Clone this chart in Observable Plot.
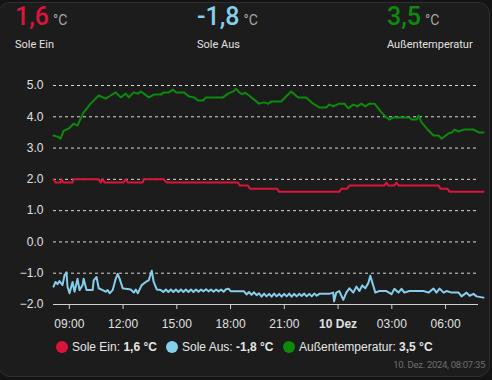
<!DOCTYPE html>
<html>
<head>
<meta charset="utf-8">
<script src="https://cdn.jsdelivr.net/npm/d3@7"></script>
<script src="https://cdn.jsdelivr.net/npm/@observablehq/plot@0.6"></script>
<style>
  html, body { margin: 0; padding: 0; width: 492px; height: 380px; background: #141414; overflow: hidden; }
  #card { position: absolute; left: -2px; top: 2px; width: 490px; height: 373px; background: #1c1c1c; border: 1px solid #2f2f2f; border-radius: 12px; }
  .hdr { position: absolute; font-family: Roboto, "Noto Sans", sans-serif; }
  .val { font-size: 25px; font-weight: 500; }
  .unit { font-size: 14px; color: #a8a8a8; margin-left: 4px; }
  .name { position: absolute; font-family: Roboto, sans-serif; font-size: 11px; color: #e1e1e1; }
  #chart { position: absolute; left: 0; top: 62px; }
  .leg { position: absolute; top: 340px; font-family: "Liberation Sans", Arial, sans-serif; font-size: 12px; color: #e6e6e6; white-space: nowrap; display: flex; align-items: center; }
  .dot { display: inline-block; width: 12px; height: 12px; border-radius: 50%; margin-right: 4px; }
  #stamp { position: absolute; right: 7px; top: 359px; font-family: Roboto, sans-serif; font-size: 9.5px; color: #6f6f6f; letter-spacing: -0.3px; }
</style>
</head>
<body>
<div id="card"></div>
<div id="chart"></div>
<script>
// ---- data ----
const seriesNames = ["Sole Ein", "Sole Aus", "Außentemperatur"];
const currentValues = ["1,6", "-1,8", "3,5"];
const unit = "°C";
const seriesColors = ["#dc143c", "#87ceeb", "#0b8a0b"];
const stampText = "10. Dez. 2024, 08:07:35";

// hours since 9 Dec 2024 00:00
const soleEinHours = [8.12,8.23,8.51,8.56,8.68,9.18,9.24,10.64,10.75,10.86,10.97,12.03,12.15,12.26,13.10,13.15,14.27,14.44,18.41,18.52,18.97,19.08,20.60,20.71,24.07,24.18,24.51,24.63,26.58,26.70,26.81,27.14,27.26,27.37,29.61,29.72,30.11,30.22,32.12];
const soleEinValues = [2.0,1.9,1.9,2.0,1.9,1.9,2.0,2.0,1.9,2.0,1.9,1.9,2.0,1.9,1.9,2.0,2.0,1.9,1.9,1.8,1.8,1.7,1.7,1.6,1.6,1.7,1.7,1.8,1.8,1.9,1.8,1.8,1.9,1.8,1.8,1.7,1.7,1.6,1.6];

const soleAusHours = [8.12,8.23,8.34,8.45,8.62,8.73,8.84,8.90,9.01,9.18,9.29,9.46,9.57,9.74,9.80,9.96,10.30,10.36,10.52,10.64,10.86,11.03,11.14,11.25,11.42,11.59,11.70,11.81,11.98,12.15,12.43,12.60,12.71,12.82,13.04,13.27,13.43,13.60,13.71,13.88,14.11,
  14.25,14.39,14.53,14.67,14.81,14.95,15.09,15.23,15.37,15.51,15.65,15.79,15.93,16.07,16.21,16.35,16.49,16.63,16.77,16.91,17.05,17.19,17.33,17.47,17.61,17.75,17.90,18.02,18.75,
  18.89,19.03,19.17,19.31,19.45,19.59,19.73,19.87,20.01,20.15,20.29,20.43,20.57,20.71,20.85,20.99,21.13,21.27,21.41,21.55,21.69,21.83,21.97,22.11,22.25,22.39,22.53,22.67,22.81,22.95,23.09,23.50,
  23.73,23.78,23.90,24.07,24.29,24.46,24.63,24.85,25.02,25.19,25.35,25.52,25.69,25.80,25.97,26.08,26.30,26.70,26.98,27.14,27.37,27.54,27.70,27.98,28.77,29.05,29.33,29.49,29.66,29.89,30.05,30.34,30.73,30.89,31.17,31.34,31.56,31.73,32.12];
const soleAusValues = [-1.43,-1.28,-1.35,-1.25,-1.38,-1.07,-0.97,-1.43,-1.64,-1.28,-1.59,-1.18,-1.54,-1.38,-1.18,-1.54,-1.54,-1.23,-1.12,-1.48,-1.54,-1.59,-1.54,-1.64,-1.54,-1.18,-1.02,-1.18,-1.48,-1.50,-1.52,-1.62,-1.52,-1.64,-1.38,-1.28,-1.23,-0.92,-1.28,-1.52,-1.54,
  -1.60,-1.52,-1.60,-1.52,-1.60,-1.52,-1.60,-1.52,-1.60,-1.52,-1.60,-1.52,-1.60,-1.52,-1.59,-1.52,-1.58,-1.51,-1.58,-1.52,-1.59,-1.52,-1.58,-1.52,-1.59,-1.51,-1.50,-1.58,-1.58,
  -1.68,-1.60,-1.69,-1.61,-1.70,-1.64,-1.75,-1.65,-1.74,-1.66,-1.75,-1.65,-1.74,-1.66,-1.75,-1.66,-1.74,-1.65,-1.75,-1.66,-1.74,-1.66,-1.73,-1.65,-1.74,-1.66,-1.74,-1.65,-1.72,-1.66,-1.66,-1.66,
  -1.62,-1.90,-1.62,-1.57,-1.85,-1.62,-1.48,-1.62,-1.43,-1.57,-1.39,-1.48,-1.31,-1.08,-1.41,-1.62,-1.57,-1.57,-1.67,-1.50,-1.62,-1.50,-1.62,-1.57,-1.57,-1.62,-1.49,-1.62,-1.49,-1.62,-1.57,-1.62,-1.62,-1.74,-1.62,-1.72,-1.66,-1.74,-1.78];

const aussenHours = [8.12,8.40,8.51,8.68,8.96,9.24,9.46,9.63,9.80,10.19,10.64,11.03,11.31,11.59,11.87,12.15,12.32,12.60,12.82,12.99,13.16,13.44,13.72,14.11,14.28,14.56,14.78,14.95,15.40,15.68,15.96,16.18,16.46,16.63,17.58,17.86,18.14,18.31,18.48,18.64,18.81,19.03,19.59,19.87,20.10,20.26,20.82,21.38,21.77,22.22,22.61,22.95,23.34,23.51,23.73,24.07,24.35,24.57,24.85,25.08,25.30,25.52,25.75,26.03,26.42,26.70,26.87,27.09,27.99,28.10,28.38,28.49,28.66,29.05,29.33,29.61,29.78,30.17,30.34,30.50,30.73,31.01,31.57,31.85,32.12];
const aussenValues = [3.40,3.35,3.30,3.55,3.62,3.78,3.72,3.94,4.14,4.42,4.68,4.58,4.68,4.78,4.62,4.74,4.62,4.78,4.74,4.81,4.74,4.62,4.71,4.71,4.78,4.78,4.87,4.78,4.78,4.65,4.62,4.52,4.52,4.62,4.62,4.74,4.81,4.90,4.78,4.72,4.77,4.68,4.42,4.46,4.42,4.49,4.49,4.81,4.62,4.62,4.42,4.30,4.30,4.39,4.33,4.42,4.42,4.27,4.39,4.33,4.42,4.33,4.42,4.42,4.14,3.98,3.91,3.98,3.98,3.91,3.91,4.04,3.82,3.56,3.40,3.40,3.30,3.47,3.50,3.59,3.53,3.59,3.59,3.50,3.50];

const yTicks = [-2, -1, 0, 1, 2, 3, 4, 5];
const xTickHours = [9, 12, 15, 18, 21, 24, 27, 30];
const xTickLabels = ["09:00", "12:00", "15:00", "18:00", "21:00", "10 Dez", "03:00", "06:00"];
const boldTickLabels = ["10 Dez"];
const windowHours = [8.117, 32.117];

// ---- build ----
const t = h => new Date(Date.UTC(2024, 11, 9) + h * 3600e3);
const toRows = (hs, vs, s) => hs.map((h, i) => ({time: t(h), value: vs[i], series: s}));
const rows = [
  ...toRows(soleEinHours, soleEinValues, seriesNames[0]),
  ...toRows(soleAusHours, soleAusValues, seriesNames[1]),
  ...toRows(aussenHours, aussenValues, seriesNames[2])
];
const labelOf = new Map(xTickHours.map((h, i) => [+t(h), xTickLabels[i]]));
const normalTicks = xTickHours.filter((h, i) => !boldTickLabels.includes(xTickLabels[i])).map(t);
const boldTicks = xTickHours.filter((h, i) => boldTickLabels.includes(xTickLabels[i])).map(t);

const axisCommon = {tickSize: 5, tickPadding: 10, tickFormat: d => labelOf.get(+d), label: null, stroke: "#d0d0d0", fill: "#e0e0e0"};

const chart = Plot.plot({
  width: 492, height: 280,
  marginLeft: 53, marginRight: 9, marginTop: 23, marginBottom: 38,
  style: {background: "transparent", color: "#e0e0e0", fontFamily: "'Liberation Sans', Arial, sans-serif", fontSize: "12px"},
  x: {type: "utc", domain: windowHours.map(t)},
  y: {domain: [-2, 5]},
  color: {domain: seriesNames, range: seriesColors},
  marks: [
    Plot.ruleY(yTicks.filter(v => v > -2), {stroke: "#d8d8d8", strokeDasharray: "3,3", strokeWidth: 1, insetRight: 6}),
    Plot.ruleY([-2], {stroke: "#d0d0d0", strokeWidth: 1, insetRight: 5}),
    Plot.axisY(yTicks, {tickSize: 0, tickPadding: 10, tickFormat: d3.format(".1f"), label: null, fill: "#e0e0e0"}),
    Plot.axisX(normalTicks, axisCommon),
    Plot.axisX(boldTicks, {...axisCommon, fontWeight: "bold"}),
    Plot.line(rows, {x: "time", y: "value", z: "series", stroke: "series", strokeWidth: 2, curve: "linear"})
  ]
});
document.getElementById("chart").appendChild(chart);

// header
const hx = [15, 197, 387];
seriesNames.forEach((n, i) => {
  const d = document.createElement("div");
  d.className = "hdr";
  d.style.left = hx[i] + "px"; d.style.top = "2px";
  d.innerHTML = `<span class="val" style="color:${seriesColors[i]}">${currentValues[i]}</span><span class="unit">${unit}</span>`;
  document.body.appendChild(d);
  const l = document.createElement("div");
  l.className = "name";
  l.style.left = hx[i] + "px"; l.style.top = "38px";
  l.textContent = n;
  document.body.appendChild(l);
});

// legend
const lx = [56, 166, 283];
seriesNames.forEach((n, i) => {
  const d = document.createElement("div");
  d.className = "leg";
  d.style.left = lx[i] + "px";
  d.innerHTML = `<span class="dot" style="background:${seriesColors[i]}"></span><span>${n}: <b>${currentValues[i]} ${unit}</b></span>`;
  document.body.appendChild(d);
});
const st = document.createElement("div");
st.id = "stamp"; st.textContent = stampText;
document.body.appendChild(st);
</script>
</body>
</html>
